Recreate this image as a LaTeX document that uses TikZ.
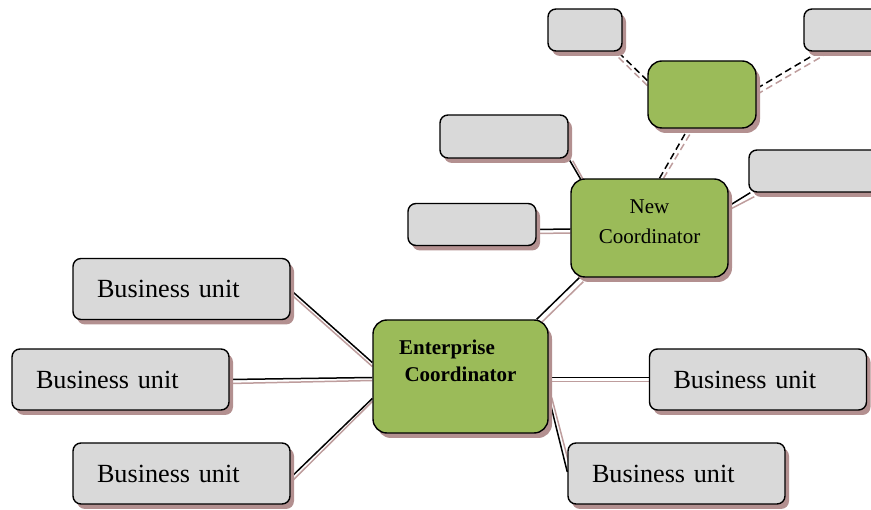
\documentclass[tikz,border=0pt]{standalone}
\usepackage{fontspec}
\setmainfont{Liberation Serif}
\usetikzlibrary{shadows,backgrounds}
\definecolor{boxgrey}{HTML}{D9D9D9}
\definecolor{boxgreen}{HTML}{9BBB59}
\definecolor{shadowc}{HTML}{B39090}
\definecolor{lineshadow}{HTML}{BE9D9D}
\tikzset{
  myshadow/.style={drop shadow={shadow xshift=4pt,shadow yshift=-5pt,fill=shadowc,opacity=1,draw=none}},
  greybox/.style={draw=black,line width=1.4pt,fill=boxgrey,rounded corners=8pt,myshadow,inner sep=0pt},
  greenbox/.style={draw=black,line width=1.4pt,fill=boxgreen,rounded corners=14pt,myshadow,inner sep=0pt},
  bunit/.style={greybox,minimum height=61pt,text width=169pt,align=left,inner xsep=24pt,
    font=\fontsize{26.2}{30}\selectfont},
  conn/.style={draw=black,line width=1.5pt},
  connsh/.style={draw=lineshadow,line width=1.5pt},
  dconn/.style={conn,dash pattern=on 7pt off 4pt},
  dconnsh/.style={connsh,dash pattern=on 7pt off 4pt},
  ectext/.style={font=\fontsize{21}{25}\selectfont\bfseries,inner sep=0pt},
  nctext/.style={font=\fontsize{21}{25}\selectfont,inner sep=0pt},
}
\begin{document}
\begin{tikzpicture}[x=1pt,y=-1pt]
\useasboundingbox (0,0) rectangle (871,510);
% grey empty boxes
\node[greybox,minimum width=74pt,minimum height=42pt] (g1) at (585,30) {};
\node[greybox,minimum width=84pt,minimum height=42pt] (g2) at (846,30) {};
\node[greybox,minimum width=128pt,minimum height=43pt] (g3) at (504,136.5) {};
\node[greybox,minimum width=132pt,minimum height=42pt] (g4) at (815,171) {};
\node[greybox,minimum width=128pt,minimum height=42pt] (g5) at (472,224.5) {};
% green boxes
\node[greenbox,minimum width=108pt,minimum height=67pt] (gt) at (702,94.5) {};
\node[greenbox,minimum width=157pt,minimum height=98pt] (nc) at (649.5,228) {};
\node[greenbox,minimum width=175pt,minimum height=113pt] (ec) at (460.5,376.5) {};
\node[nctext] (nc1) at (649.5,207) {New};
\node[nctext] (nc2) at (649.5,236) {Coordinator};
\node[ectext] (ec1) at (447,349) {Enterprise};
\node[ectext] (ec2) at (460.5,374) {Coordinator};
% business units
\node[bunit] (bu1) at (181.5,289) {Business unit};
\node[bunit] (bu2) at (120.5,379.5) {Business unit};
\node[bunit] (bu3) at (181.5,473.5) {Business unit};
\node[bunit] (bu4) at (758,379.5) {Business unit};
\node[bunit] (bu5) at (676.5,473.5) {Business unit};
% connectors
\begin{pgfonlayer}{background}
\draw[connsh] ([shift={(0,5)}]bu1.east) -- ([shift={(0,-10)}]ec.west);
\draw[conn] ([shift={(0,1)}]bu1.east) -- ([shift={(0,-14)}]ec.west);
\draw[connsh] ([shift={(0,4)}]bu2.east) -- ([shift={(0,4)}]ec.west);
\draw[conn] (bu2.east) -- ([shift={(0,1)}]ec.west);
\draw[connsh] ([shift={(0,9)}]bu3.east) -- ([shift={(0,25)}]ec.west);
\draw[conn] ([shift={(0,4)}]bu3.east) -- ([shift={(0,22)}]ec.west);
\draw[connsh] ([shift={(0,5)}]ec.east) -- ([shift={(0,2)}]bu4.west);
\draw[conn] ([shift={(0,1)}]ec.east) -- ([shift={(0,-2)}]bu4.west);
\draw[connsh] ([shift={(3,21)}]ec.east) -- ([shift={(4,-1)}]bu5.west);
\draw[conn] ([shift={(0,20.5)}]ec.east) -- ([shift={(0,-1.5)}]bu5.west);
\draw[connsh] ([shift={(-8,4)}]ec.north east) -- ([shift={(13,4)}]nc.south west);
\draw[conn] ([shift={(-12,0)}]ec.north east) -- ([shift={(9,0)}]nc.south west);
\draw[connsh] ([shift={(0,5)}]nc.west) -- ([shift={(0,9)}]g5.east);
\draw[conn] ([shift={(0,1)}]nc.west) -- ([shift={(0,5)}]g5.east);
\draw[connsh] ([shift={(4,2)}]g3.south east) -- ([shift={(15,5)}]nc.north west);
\draw[conn] (g3.south east) -- ([shift={(11,2)}]nc.north west);
\draw[connsh] ([shift={(0,-18)}]nc.east) -- ([shift={(6,4)}]g4.south west);
\draw[conn] ([shift={(0,-22)}]nc.east) -- ([shift={(2,0)}]g4.south west);
\draw[dconnsh] ([shift={(14,0)}]nc.north) -- ([shift={(-10,2)}]gt.south);
\draw[dconn] ([shift={(10,0)}]nc.north) -- ([shift={(-14,0)}]gt.south);
\draw[dconnsh] ([shift={(0,-9)}]gt.west) -- ([shift={(-8,2)}]g1.south east);
\draw[dconn] ([shift={(0,-14)}]gt.west) -- ([shift={(-5,0)}]g1.south east);
\draw[dconnsh] ([shift={(0,0)}]gt.east) -- ([shift={(20,4)}]g2.south west);
\draw[dconn] ([shift={(0,-6)}]gt.east) -- ([shift={(16,0)}]g2.south west);
\end{pgfonlayer}
\end{tikzpicture}
\end{document}
